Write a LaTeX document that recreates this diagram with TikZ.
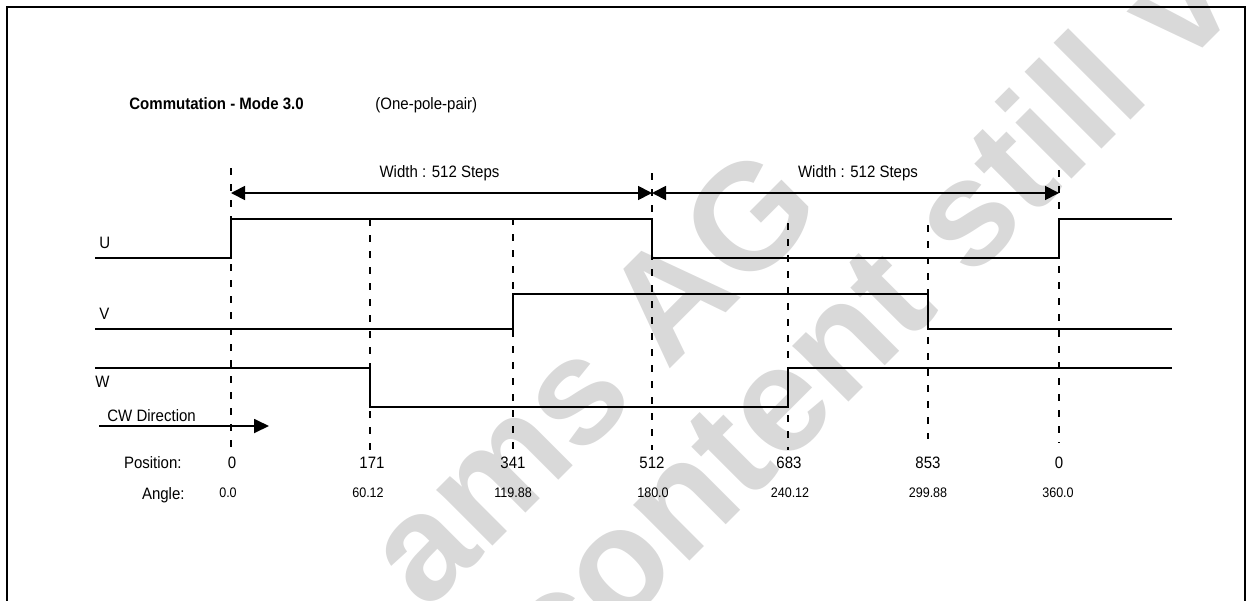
\documentclass[tikz,border=0pt]{standalone}
\usepackage{fontspec}
\setmainfont{Liberation Sans}[FakeStretch=0.91]
\newfontfamily\wmfont{Liberation Sans}
\usetikzlibrary{arrows.meta}
\tikzset{
  sig/.style={line width=0.9pt, line join=miter},
  guide/.style={line width=1pt, dash pattern=on 3.5pt off 4.5pt},
  frameline/.style={line width=1pt},
  dimarrow/.style={line width=0.9pt, {Triangle[length=7pt,width=7pt]}-{Triangle[length=7pt,width=7pt]}},
  dirarrow/.style={line width=0.9pt, -{Triangle[length=7.5pt,width=7pt]}},
  lbl/.style={inner sep=0pt, font=\fontsize{8.25pt}{10pt}\selectfont},
  ttl/.style={inner sep=0pt, font=\fontsize{8.25pt}{10pt}\selectfont\bfseries},
  ang/.style={inner sep=0pt, font=\fontsize{6.9pt}{8pt}\selectfont},
  wm/.style={inner sep=0pt, text=black!15, font=\wmfont\bfseries\fontsize{75pt}{75pt}\selectfont}
}
\begin{document}
\begin{tikzpicture}[x=0.5pt,y=-0.5pt]
\useasboundingbox (0,0) rectangle (1247,600);
% watermark
\begin{scope}
\clip (0,0) rectangle (1247,600);
\node[wm, anchor=base west, rotate=45] (wm1) at (426,613) {ams AG};
\node[wm, anchor=base west, rotate=45] (wm2) at (558,693) {content still valid};
\end{scope}
% frame
\coordinate (fbl) at (7,602);
\coordinate (ftl) at (7,7);
\coordinate (ftr) at (1245,7);
\coordinate (fbr) at (1245,602);
\draw[frameline] (fbl) -- (ftl) -- (ftr) -- (fbr);
% titles
\node[ttl, anchor=base west] (title) at (129,109.5) {Commutation - Mode 3.0};
\node[lbl, anchor=base west] (pp) at (375,109.5) {(One-pole-pair)};
% guide lines
\coordinate (g0t) at (231,168);  \coordinate (g0b) at (231,452);
\coordinate (g1t) at (370,219);  \coordinate (g1b) at (370,452);
\coordinate (g2t) at (513,218);  \coordinate (g2b) at (513,452);
\coordinate (g3t) at (652,173);  \coordinate (g3b) at (652,450);
\coordinate (g4t) at (788,223);  \coordinate (g4b) at (788,450);
\coordinate (g5t) at (928,225);  \coordinate (g5b) at (928,439);
\coordinate (g6t) at (1059,170); \coordinate (g6b) at (1059,443);
\foreach \i in {0,...,6} { \draw[guide] (g\i t) -- (g\i b); }
% dimension arrows
\coordinate (d0) at (231,193);
\coordinate (d1) at (652,193);
\coordinate (d2) at (1059,193);
\draw[dimarrow] (d0) -- (d1);
\draw[dimarrow] (d1) -- (d2);
\node[lbl, anchor=base] (w1) at (439.5,177) {Width : 512 Steps};
\node[lbl, anchor=base] (w2) at (858,177) {Width : 512 Steps};
% signals
\node[lbl, anchor=base west] (U) at (99,248) {U};
\node[lbl, anchor=base west] (V) at (99,319) {V};
\node[lbl, anchor=base west] (W) at (95,387) {W};
\draw[sig] (95,258) -- (231,258) -- (231,219) -- (652,219) -- (652,258) -- (1059,258) -- (1059,219) -- (1172,219);
\draw[sig] (95,329) -- (513,329) -- (513,294) -- (928,294) -- (928,329) -- (1172,329);
\draw[sig] (95,368) -- (370,368) -- (370,407) -- (788,407) -- (788,368) -- (1172,368);
% direction
\node[lbl, anchor=base west] (cw) at (107,421) {CW Direction};
\coordinate (cwa) at (99,426);
\coordinate (cwb) at (269,426);
\draw[dirarrow] (cwa) -- (cwb);
% position row
\node[lbl, anchor=base east] (poslbl) at (182,468.5) {Position:};
\node[lbl, anchor=base] (p0) at (232,468.5) {0};
\node[lbl, anchor=base] (p1) at (372,468.5) {171};
\node[lbl, anchor=base] (p2) at (513,468.5) {341};
\node[lbl, anchor=base] (p3) at (652,468.5) {512};
\node[lbl, anchor=base] (p4) at (789,468.5) {683};
\node[lbl, anchor=base] (p5) at (928,468.5) {853};
\node[lbl, anchor=base] (p6) at (1059,468.5) {0};
% angle row
\node[lbl, anchor=base east] (anglbl) at (185,499) {Angle:};
\node[ang, anchor=base] (a0) at (228,497) {0.0};
\node[ang, anchor=base] (a1) at (368,497) {60.12};
\node[ang, anchor=base] (a2) at (513,497) {119.88};
\node[ang, anchor=base] (a3) at (653,497) {180.0};
\node[ang, anchor=base] (a4) at (790,497) {240.12};
\node[ang, anchor=base] (a5) at (928,497) {299.88};
\node[ang, anchor=base] (a6) at (1058,497) {360.0};
\end{tikzpicture}
\end{document}
